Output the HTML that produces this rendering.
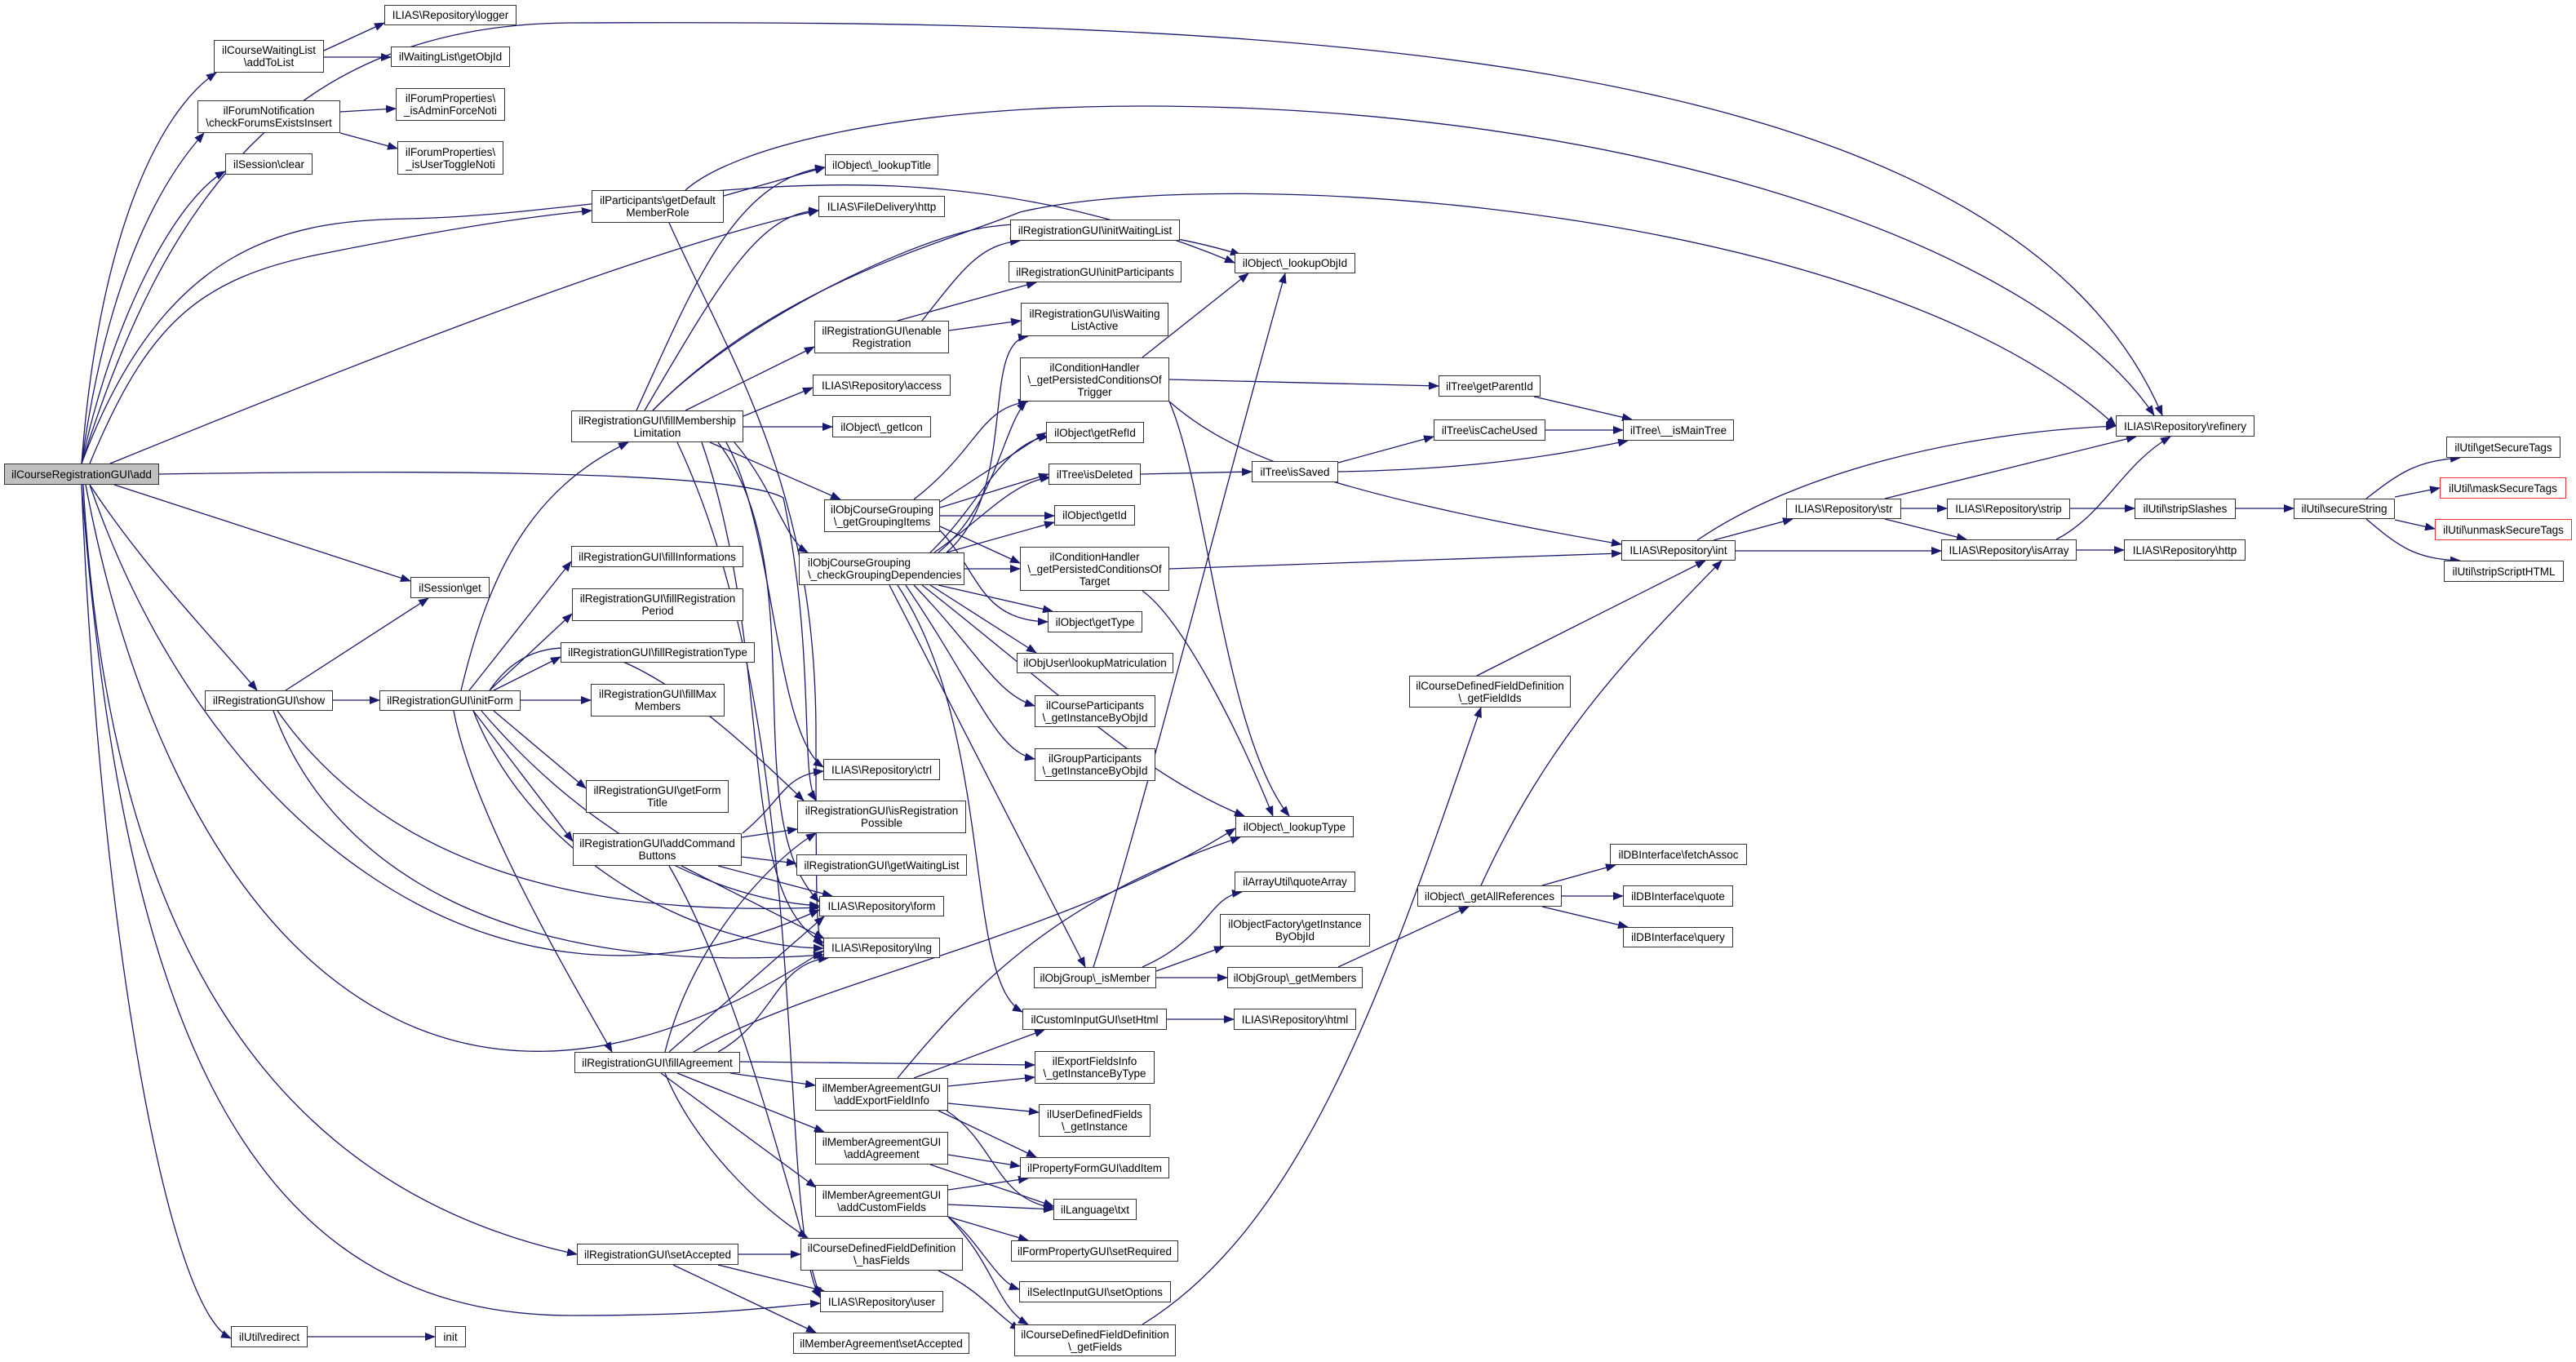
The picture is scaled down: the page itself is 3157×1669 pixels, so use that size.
<!DOCTYPE html>
<html><head><meta charset="utf-8"><style>
html,body{margin:0;padding:0;background:#fff;}
#c{position:relative;width:3157px;height:1669px;overflow:hidden;background:#fff;}
svg{position:absolute;left:0;top:0;}
.n{position:absolute;box-sizing:border-box;border:1.5px solid #333;background:#fff;display:flex;align-items:center;justify-content:center;text-align:center;font-family:"Liberation Sans",sans-serif;font-size:13.5px;line-height:15px;color:#000;white-space:nowrap;}
.g{background:#bfbfbf;}
.r{border-color:#ff3030;}
</style></head><body><div id="c">
<svg width="3157" height="1669" viewBox="0 0 3157 1669">
<defs><marker id="a" markerWidth="13" markerHeight="10" refX="12" refY="5" orient="auto" markerUnits="userSpaceOnUse"><path d="M0,0 L13,5 L0,10 z" fill="#191970"/></marker></defs>
<g fill="none" stroke="#191970" stroke-width="1.3" marker-end="url(#a)">
<path d="M100,568 C120,300 190,140 265,89"/>
<path d="M100,568 C130,350 190,230 250,163"/>
<path d="M100,568 C140,380 220,240 276,210"/>
<path d="M100,568 C200,250 350,30 700,28 C1500,25 2450,40 2650,509"/>
<path d="M110,568 C180,400 240,340 400,310 C550,280 650,265 725,258"/>
<path d="M135,568 C400,460 800,300 1003,258"/>
<path d="M100,568 C200,300 350,270 500,268 C800,262 1100,150 1513,322"/>
<path d="M140,594 L503,712"/>
<path d="M110,594 C180,700 260,780 315,846"/>
<path d="M195,581 C500,576 900,576 960,610 C1000,800 980,950 1000,981"/>
<path d="M100,594 C120,1100 200,1600 283,1640"/>
<path d="M100,594 C150,1250 300,1612 700,1612 C900,1612 950,1600 1005,1597"/>
<path d="M105,594 C200,1100 500,1500 1009,1165"/>
<path d="M110,594 C250,1000 600,1300 1004,1115"/>
<path d="M102,594 C130,1100 300,1450 707,1537"/>
<path d="M397,62 L471,28"/>
<path d="M397,70 L479,70"/>
<path d="M417,137 L485,133"/>
<path d="M417,163 L487,182"/>
<path d="M887,240 L1011,205"/>
<path d="M840,233 C900,180 1100,130 1400,130 C2000,130 2500,300 2640,509"/>
<path d="M820,273 C900,450 1000,600 1000,900 C1000,1100 1000,1150 1009,1160"/>
<path d="M408,858 L465,858"/>
<path d="M350,846 L525,733"/>
<path d="M335,871 C400,1050 600,1200 1009,1170"/>
<path d="M340,871 C500,1100 800,1120 1004,1112"/>
<path d="M565,846 C600,700 650,600 770,542"/>
<path d="M575,846 L700,688"/>
<path d="M600,846 L701,752"/>
<path d="M605,846 L687,805"/>
<path d="M638,858 L724,858"/>
<path d="M605,871 L718,966"/>
<path d="M580,871 L702,1031"/>
<path d="M556,871 C580,1000 700,1200 750,1289"/>
<path d="M600,846 C700,700 900,900 985,981"/>
<path d="M590,871 C700,1000 850,1100 1004,1110"/>
<path d="M580,871 C650,1050 850,1160 1009,1162"/>
<path d="M780,503 C850,350 900,220 1011,205"/>
<path d="M790,503 C880,350 930,260 1003,258"/>
<path d="M840,503 L998,425"/>
<path d="M911,510 L996,475"/>
<path d="M911,523 L1020,523"/>
<path d="M870,542 L1030,612"/>
<path d="M900,542 C950,600 960,660 990,677"/>
<path d="M890,542 C950,650 950,900 1009,940"/>
<path d="M800,503 C900,400 1100,300 1200,280 C1300,262 1450,290 1520,312"/>
<path d="M800,503 C950,350 1150,300 1250,260 C1500,200 2300,250 2593,522"/>
<path d="M880,542 C1000,700 900,1000 1004,1105"/>
<path d="M860,542 C950,800 900,1100 1009,1155"/>
<path d="M830,542 C1000,900 950,1500 1005,1590"/>
<path d="M1130,393 C1180,330 1200,300 1250,295"/>
<path d="M1100,393 L1270,346"/>
<path d="M1163,405 L1251,393"/>
<path d="M1400,438 L1530,335"/>
<path d="M1433,465 L1763,473"/>
<path d="M1433,492 C1500,550 1600,600 1987,667"/>
<path d="M1433,492 C1480,600 1500,900 1580,1000"/>
<path d="M1120,612 C1200,550 1200,500 1260,492"/>
<path d="M1152,615 L1282,530"/>
<path d="M1152,622 L1285,581"/>
<path d="M1152,632 L1292,632"/>
<path d="M1152,645 L1250,690"/>
<path d="M1152,650 C1200,700 1200,760 1284,762"/>
<path d="M1160,677 C1250,600 1200,420 1260,412"/>
<path d="M1150,677 C1220,620 1230,520 1258,492"/>
<path d="M1140,677 C1200,620 1230,540 1285,535"/>
<path d="M1145,677 C1200,640 1240,590 1287,585"/>
<path d="M1160,677 L1292,640"/>
<path d="M1182,697 L1250,697"/>
<path d="M1150,717 L1290,749"/>
<path d="M1140,717 L1270,800"/>
<path d="M1120,717 C1200,800 1220,850 1268,865"/>
<path d="M1110,717 C1200,850 1220,920 1268,930"/>
<path d="M1090,717 L1330,1185"/>
<path d="M1100,717 C1220,900 1180,1200 1253,1240"/>
<path d="M1130,717 C1300,850 1400,950 1525,1000"/>
<path d="M1398,581 L1534,578"/>
<path d="M1640,567 L1757,535"/>
<path d="M1640,578 C1800,575 1900,560 1995,540"/>
<path d="M1880,486 L2000,514"/>
<path d="M1894,527 L1989,527"/>
<path d="M1433,697 L1987,678"/>
<path d="M1400,724 C1450,760 1520,900 1560,1000"/>
<path d="M2100,662 L2197,636"/>
<path d="M2127,675 L2379,675"/>
<path d="M2080,662 C2200,580 2400,530 2593,522"/>
<path d="M2310,611 L2618,535"/>
<path d="M2330,623 L2386,623"/>
<path d="M2310,636 L2410,661"/>
<path d="M2537,623 L2616,623"/>
<path d="M2740,623 L2811,623"/>
<path d="M2520,661 C2580,630 2600,570 2660,535"/>
<path d="M2545,674 L2603,674"/>
<path d="M2900,611 C2940,580 2960,565 3015,561"/>
<path d="M2935,609 L2990,598"/>
<path d="M2935,637 L2984,648"/>
<path d="M2900,636 C2940,670 2960,685 3015,687"/>
<path d="M1810,828 L2090,687"/>
<path d="M1815,1085 C1900,900 2000,800 2110,687"/>
<path d="M1890,1085 L1980,1060"/>
<path d="M1914,1098 L1989,1098"/>
<path d="M1890,1111 L1995,1136"/>
<path d="M1400,1623 C1600,1500 1700,1200 1815,867"/>
<path d="M1340,1185 C1400,1000 1500,600 1575,335"/>
<path d="M1400,1185 C1480,1150 1480,1100 1522,1093"/>
<path d="M1417,1190 L1500,1160"/>
<path d="M1417,1198 L1504,1198"/>
<path d="M1640,1185 L1800,1111"/>
<path d="M1430,1249 L1512,1249"/>
<path d="M909,1026 L977,1016"/>
<path d="M909,1050 L976,1058"/>
<path d="M880,1061 L1020,1098"/>
<path d="M835,1061 L1010,1150"/>
<path d="M910,1021 C960,980 960,950 1009,945"/>
<path d="M820,1061 C900,1200 950,1400 1005,1590"/>
<path d="M907,1301 L1268,1305"/>
<path d="M895,1315 L999,1330"/>
<path d="M830,1315 L1010,1387"/>
<path d="M810,1315 L1000,1455"/>
<path d="M815,1315 C850,1400 930,1480 990,1517"/>
<path d="M880,1289 C950,1250 950,1180 1015,1174"/>
<path d="M820,1289 L1010,1123"/>
<path d="M815,1289 C850,1150 950,1050 1000,1021"/>
<path d="M850,1289 C1000,1200 1300,1150 1514,1015"/>
<path d="M1120,1321 L1280,1262"/>
<path d="M1162,1331 L1268,1320"/>
<path d="M1162,1352 L1273,1363"/>
<path d="M1150,1361 L1270,1418"/>
<path d="M1160,1361 C1220,1400 1220,1470 1291,1480"/>
<path d="M1100,1321 C1200,1200 1300,1100 1520,1026"/>
<path d="M1162,1415 L1250,1429"/>
<path d="M1140,1427 L1291,1478"/>
<path d="M1162,1458 L1260,1444"/>
<path d="M1162,1476 L1291,1482"/>
<path d="M1162,1491 L1260,1520"/>
<path d="M1162,1491 C1200,1520 1220,1570 1249,1580"/>
<path d="M1162,1491 C1220,1550 1220,1600 1260,1623"/>
<path d="M1150,1557 C1200,1580 1220,1610 1250,1630"/>
<path d="M905,1537 L981,1537"/>
<path d="M880,1550 L1010,1582"/>
<path d="M825,1550 L1000,1633"/>
<path d="M377,1638 L533,1638"/>
</g></svg>
<div class="n g" style="left:5px;top:568px;width:190px;height:26px">ilCourseRegistrationGUI\add</div>
<div class="n" style="left:262px;top:49px;width:135px;height:40px">ilCourseWaitingList<br>\addToList</div>
<div class="n" style="left:242px;top:123px;width:175px;height:40px">ilForumNotification<br>\checkForumsExistsInsert</div>
<div class="n" style="left:276px;top:188px;width:107px;height:26px">ilSession\clear</div>
<div class="n" style="left:471px;top:6px;width:162px;height:25px">ILIAS\Repository\logger</div>
<div class="n" style="left:479px;top:57px;width:146px;height:25px">ilWaitingList\getObjId</div>
<div class="n" style="left:485px;top:108px;width:134px;height:40px">ilForumProperties\<br>_isAdminForceNoti</div>
<div class="n" style="left:487px;top:173px;width:130px;height:41px">ilForumProperties\<br>_isUserToggleNoti</div>
<div class="n" style="left:725px;top:233px;width:162px;height:40px">ilParticipants\getDefault<br>MemberRole</div>
<div class="n" style="left:503px;top:707px;width:97px;height:26px">ilSession\get</div>
<div class="n" style="left:251px;top:846px;width:157px;height:25px">ilRegistrationGUI\show</div>
<div class="n" style="left:465px;top:846px;width:173px;height:25px">ilRegistrationGUI\initForm</div>
<div class="n" style="left:283px;top:1625px;width:94px;height:26px">ilUtil\redirect</div>
<div class="n" style="left:533px;top:1625px;width:38px;height:26px">init</div>
<div class="n" style="left:700px;top:503px;width:211px;height:39px">ilRegistrationGUI\fillMembership<br>Limitation</div>
<div class="n" style="left:700px;top:669px;width:211px;height:26px">ilRegistrationGUI\fillInformations</div>
<div class="n" style="left:701px;top:721px;width:210px;height:40px">ilRegistrationGUI\fillRegistration<br>Period</div>
<div class="n" style="left:687px;top:787px;width:238px;height:25px">ilRegistrationGUI\fillRegistrationType</div>
<div class="n" style="left:724px;top:838px;width:164px;height:40px">ilRegistrationGUI\fillMax<br>Members</div>
<div class="n" style="left:718px;top:956px;width:175px;height:40px">ilRegistrationGUI\getForm<br>Title</div>
<div class="n" style="left:702px;top:1021px;width:207px;height:40px">ilRegistrationGUI\addCommand<br>Buttons</div>
<div class="n" style="left:704px;top:1289px;width:203px;height:26px">ilRegistrationGUI\fillAgreement</div>
<div class="n" style="left:707px;top:1524px;width:198px;height:26px">ilRegistrationGUI\setAccepted</div>
<div class="n" style="left:1011px;top:189px;width:139px;height:26px">ilObject\_lookupTitle</div>
<div class="n" style="left:1003px;top:240px;width:155px;height:26px">ILIAS\FileDelivery\http</div>
<div class="n" style="left:998px;top:393px;width:165px;height:40px">ilRegistrationGUI\enable<br>Registration</div>
<div class="n" style="left:996px;top:459px;width:169px;height:26px">ILIAS\Repository\access</div>
<div class="n" style="left:1020px;top:510px;width:121px;height:26px">ilObject\_getIcon</div>
<div class="n" style="left:1010px;top:612px;width:142px;height:40px">ilObjCourseGrouping<br>\_getGroupingItems</div>
<div class="n" style="left:979px;top:677px;width:203px;height:40px;justify-content:flex-start;text-align:left;padding-left:10px">ilObjCourseGrouping<br>\_checkGroupingDependencies</div>
<div class="n" style="left:1009px;top:930px;width:143px;height:26px">ILIAS\Repository\ctrl</div>
<div class="n" style="left:977px;top:981px;width:207px;height:40px">ilRegistrationGUI\isRegistration<br>Possible</div>
<div class="n" style="left:976px;top:1047px;width:209px;height:26px">ilRegistrationGUI\getWaitingList</div>
<div class="n" style="left:1004px;top:1098px;width:153px;height:25px">ILIAS\Repository\form</div>
<div class="n" style="left:1009px;top:1149px;width:143px;height:25px">ILIAS\Repository\lng</div>
<div class="n" style="left:999px;top:1321px;width:163px;height:40px">ilMemberAgreementGUI<br>\addExportFieldInfo</div>
<div class="n" style="left:999px;top:1387px;width:163px;height:40px">ilMemberAgreementGUI<br>\addAgreement</div>
<div class="n" style="left:999px;top:1452px;width:163px;height:39px">ilMemberAgreementGUI<br>\addCustomFields</div>
<div class="n" style="left:981px;top:1517px;width:199px;height:40px">ilCourseDefinedFieldDefinition<br>\_hasFields</div>
<div class="n" style="left:1005px;top:1582px;width:151px;height:26px">ILIAS\Repository\user</div>
<div class="n" style="left:972px;top:1633px;width:216px;height:26px">ilMemberAgreement\setAccepted</div>
<div class="n" style="left:1238px;top:269px;width:208px;height:26px">ilRegistrationGUI\initWaitingList</div>
<div class="n" style="left:1236px;top:320px;width:212px;height:26px">ilRegistrationGUI\initParticipants</div>
<div class="n" style="left:1251px;top:371px;width:181px;height:41px">ilRegistrationGUI\isWaiting<br>ListActive</div>
<div class="n" style="left:1250px;top:438px;width:183px;height:54px">ilConditionHandler<br>\_getPersistedConditionsOf<br>Trigger</div>
<div class="n" style="left:1282px;top:517px;width:120px;height:26px">ilObject\getRefId</div>
<div class="n" style="left:1285px;top:568px;width:113px;height:26px">ilTree\isDeleted</div>
<div class="n" style="left:1292px;top:619px;width:99px;height:25px">ilObject\getId</div>
<div class="n" style="left:1250px;top:670px;width:183px;height:54px">ilConditionHandler<br>\_getPersistedConditionsOf<br>Target</div>
<div class="n" style="left:1284px;top:749px;width:116px;height:26px">ilObject\getType</div>
<div class="n" style="left:1246px;top:800px;width:192px;height:25px">ilObjUser\lookupMatriculation</div>
<div class="n" style="left:1268px;top:852px;width:148px;height:39px">ilCourseParticipants<br>\_getInstanceByObjId</div>
<div class="n" style="left:1268px;top:917px;width:148px;height:40px">ilGroupParticipants<br>\_getInstanceByObjId</div>
<div class="n" style="left:1267px;top:1185px;width:150px;height:26px">ilObjGroup\_isMember</div>
<div class="n" style="left:1253px;top:1236px;width:177px;height:26px">ilCustomInputGUI\setHtml</div>
<div class="n" style="left:1268px;top:1288px;width:147px;height:40px">ilExportFieldsInfo<br>\_getInstanceByType</div>
<div class="n" style="left:1273px;top:1353px;width:137px;height:40px">ilUserDefinedFields<br>\_getInstance</div>
<div class="n" style="left:1250px;top:1418px;width:183px;height:26px">ilPropertyFormGUI\addItem</div>
<div class="n" style="left:1291px;top:1469px;width:102px;height:26px">ilLanguage\txt</div>
<div class="n" style="left:1239px;top:1520px;width:205px;height:26px">ilFormPropertyGUI\setRequired</div>
<div class="n" style="left:1249px;top:1570px;width:186px;height:26px">ilSelectInputGUI\setOptions</div>
<div class="n" style="left:1243px;top:1623px;width:198px;height:39px">ilCourseDefinedFieldDefinition<br>\_getFields</div>
<div class="n" style="left:1513px;top:310px;width:148px;height:25px">ilObject\_lookupObjId</div>
<div class="n" style="left:1514px;top:1000px;width:145px;height:26px">ilObject\_lookupType</div>
<div class="n" style="left:1513px;top:1068px;width:148px;height:25px">ilArrayUtil\quoteArray</div>
<div class="n" style="left:1495px;top:1120px;width:184px;height:40px">ilObjectFactory\getInstance<br>ByObjId</div>
<div class="n" style="left:1504px;top:1185px;width:166px;height:26px">ilObjGroup\_getMembers</div>
<div class="n" style="left:1512px;top:1236px;width:150px;height:26px">ILIAS\Repository\html</div>
<div class="n" style="left:1534px;top:565px;width:106px;height:26px">ilTree\isSaved</div>
<div class="n" style="left:1763px;top:460px;width:125px;height:26px">ilTree\getParentId</div>
<div class="n" style="left:1757px;top:514px;width:137px;height:26px">ilTree\isCacheUsed</div>
<div class="n" style="left:1727px;top:828px;width:198px;height:39px">ilCourseDefinedFieldDefinition<br>\_getFieldIds</div>
<div class="n" style="left:1737px;top:1085px;width:177px;height:26px">ilObject\_getAllReferences</div>
<div class="n" style="left:1989px;top:514px;width:136px;height:26px">ilTree\__isMainTree</div>
<div class="n" style="left:1987px;top:662px;width:140px;height:25px">ILIAS\Repository\int</div>
<div class="n" style="left:1973px;top:1034px;width:168px;height:26px">ilDBInterface\fetchAssoc</div>
<div class="n" style="left:1989px;top:1085px;width:135px;height:26px">ilDBInterface\quote</div>
<div class="n" style="left:1989px;top:1136px;width:135px;height:25px">ilDBInterface\query</div>
<div class="n" style="left:2593px;top:509px;width:170px;height:26px">ILIAS\Repository\refinery</div>
<div class="n" style="left:2189px;top:611px;width:141px;height:25px">ILIAS\Repository\str</div>
<div class="n" style="left:2386px;top:611px;width:151px;height:25px">ILIAS\Repository\strip</div>
<div class="n" style="left:2616px;top:611px;width:124px;height:25px">ilUtil\stripSlashes</div>
<div class="n" style="left:2811px;top:611px;width:124px;height:25px">ilUtil\secureString</div>
<div class="n" style="left:2379px;top:661px;width:166px;height:26px">ILIAS\Repository\isArray</div>
<div class="n" style="left:2603px;top:661px;width:149px;height:26px">ILIAS\Repository\http</div>
<div class="n" style="left:2998px;top:535px;width:140px;height:26px">ilUtil\getSecureTags</div>
<div class="n r" style="left:2990px;top:585px;width:155px;height:26px">ilUtil\maskSecureTags</div>
<div class="n r" style="left:2984px;top:636px;width:168px;height:26px">ilUtil\unmaskSecureTags</div>
<div class="n" style="left:2995px;top:687px;width:147px;height:26px">ilUtil\stripScriptHTML</div>
</div></body></html>
